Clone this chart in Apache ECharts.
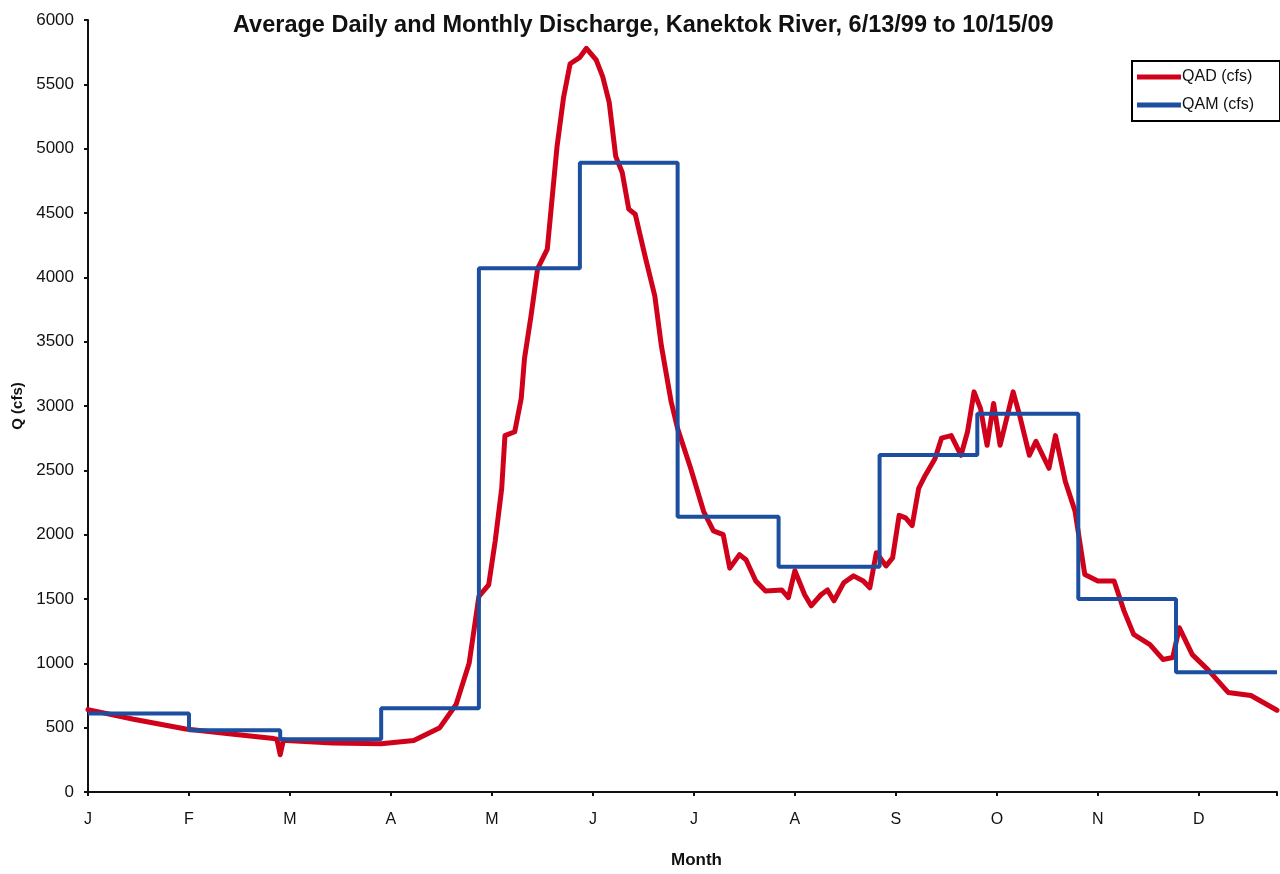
<!DOCTYPE html>
<html>
<head>
<meta charset="utf-8">
<script src="https://cdn.jsdelivr.net/npm/echarts@6/dist/echarts.min.js"></script>
<style>
html,body{margin:0;padding:0;background:#fff;}
#chart{width:1280px;height:874px;}
</style>
</head>
<body>
<div id="chart"></div>
<script>
// Month tick labels (ticks every 31 days)
var monthLabels = ['J','F','M','A','M','J','J','A','S','O','N','D'];

// QAM: monthly averages, starting day of each month
var qamDays   = [0, 31, 59, 90, 120, 151, 181, 212, 243, 273, 304, 334, 365];
var qamValues = [610, 480, 410, 650, 4070, 4890, 2140, 1750, 2620, 2940, 1500, 930, 930];

// QAD: average daily discharge (day of year, cfs)
var qadDays = [0,14,30,44,57,58,59,60,61,75,90,100,108,113,117,120,123,125,127,128,131,133,134,136,138,141,144,146,148,151,153,156,158,160,162,164,166,168,171,174,176,179,181,185,189,192,195,197,200,202,205,208,213,215,217,220,222,225,227,229,232,235,238,240,242,245,247,249,251,253,255,257,260,262,265,268,270,272,274,276,278,280,284,286,289,291,295,297,300,303,306,310,315,318,321,326,330,333,335,339,344,350,357,365];
var qadValues = [640,565,490,450,415,410,290,405,400,380,375,400,500,680,1000,1520,1610,1950,2360,2770,2800,3060,3370,3700,4065,4220,5020,5400,5660,5710,5780,5690,5560,5360,4940,4815,4530,4490,4165,3855,3470,3035,2825,2516,2180,2030,2000,1740,1845,1805,1640,1563,1570,1510,1720,1533,1447,1533,1570,1486,1626,1680,1640,1587,1860,1757,1820,2150,2130,2070,2360,2460,2590,2750,2770,2617,2800,3110,2980,2695,3020,2695,3110,2926,2617,2725,2516,2770,2415,2183,1690,1640,1640,1410,1225,1146,1030,1045,1277,1068,945,774,750,635];

function pairs(xs, ys){ var out=[]; for(var i=0;i<xs.length;i++){ out.push([xs[i], ys[i]]); } return out; }

var FONT = 'Liberation Sans, Arial, sans-serif';
var chart = echarts.init(document.getElementById('chart'));
chart.setOption({
  animation:false,
  backgroundColor:'#fff',
  title:{
    text:'Average Daily and Monthly Discharge, Kanektok River, 6/13/99 to 10/15/09',
    left:233, top:14, padding:0,
    textStyle:{fontFamily:FONT, fontSize:23.5, fontWeight:'bold', color:'#111'}
  },
  legend:{
    orient:'vertical', right:0, top:61,
    backgroundColor:'#fff',
    borderColor:'#000', borderWidth:2, borderRadius:0,
    padding:[8,26,8,5], itemGap:12,
    itemWidth:44, itemHeight:5,
    textStyle:{fontFamily:FONT, fontSize:16, color:'#111', padding:[0,0,0,-4]},
    data:[{name:'QAD (cfs)', icon:'rect'},{name:'QAM (cfs)', icon:'rect'}]
  },
  grid:{left:88, right:0, top:20, bottom:79, containLabel:false},
  xAxis:{
    type:'value', min:0, max:365, interval:31,
    name:'Month', nameLocation:'middle', nameGap:60,
    nameTextStyle:{fontFamily:FONT, fontSize:17, fontWeight:'bold', color:'#111', padding:[0,0,0,28]},
    axisLine:{show:true, lineStyle:{color:'#111', width:2}},
    axisTick:{show:true, length:4, inside:false, lineStyle:{color:'#111', width:2}},
    splitLine:{show:false},
    axisLabel:{
      margin:20, color:'#111', fontSize:16, fontFamily:FONT,
      formatter:function(v){ if(v%31===0 && v/31<monthLabels.length){ return monthLabels[v/31]; } return ''; }
    }
  },
  yAxis:{
    type:'value', min:0, max:6000, interval:500,
    name:'Q (cfs)', nameLocation:'middle', nameGap:58,
    nameTextStyle:{fontFamily:FONT, fontSize:15, fontWeight:'bold', color:'#111'},
    axisLine:{show:true, lineStyle:{color:'#111', width:2}},
    axisTick:{show:true, length:4, lineStyle:{color:'#111', width:2}},
    splitLine:{show:false},
    axisLabel:{margin:14, color:'#111', fontSize:17, fontFamily:FONT,
      formatter:function(v){ return String(v); }}
  },
  series:[
    {
      name:'QAD (cfs)', type:'line', data:pairs(qadDays, qadValues),
      showSymbol:false, symbol:'none', z:2,
      lineStyle:{color:'#d0021b', width:5, join:'round', cap:'round'},
      itemStyle:{color:'#d0021b'}
    },
    {
      name:'QAM (cfs)', type:'line', step:'end', data:pairs(qamDays, qamValues),
      showSymbol:false, symbol:'none', z:3,
      lineStyle:{color:'#1c4f9f', width:4},
      itemStyle:{color:'#1c4f9f'}
    }
  ]
});
</script>
</body>
</html>
